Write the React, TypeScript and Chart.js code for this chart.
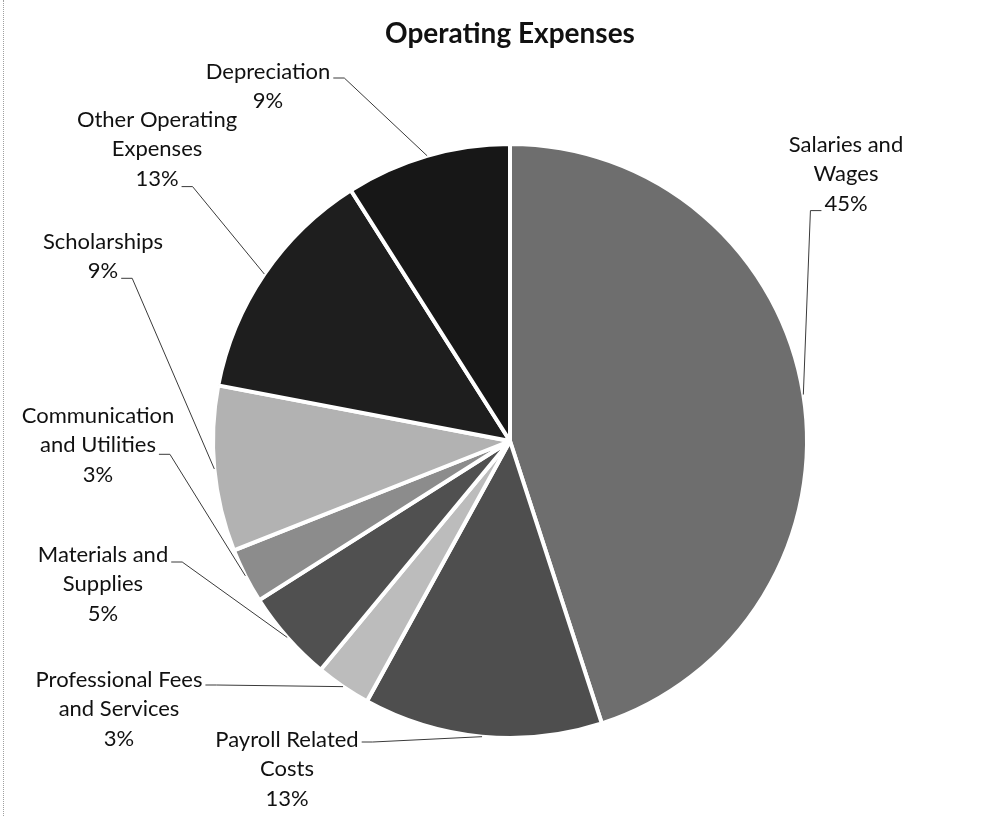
import React, { useEffect, useRef } from "react";
import { Chart, registerables } from "chart.js";

Chart.register(...registerables);

// ---- data ----
const categories = [
  "Salaries and Wages",
  "Payroll Related Costs",
  "Professional Fees and Services",
  "Materials and Supplies",
  "Communication and Utilities",
  "Scholarships",
  "Other Operating Expenses",
  "Depreciation",
];
const shares = [45, 13, 3, 5, 3, 9, 13, 9];
const labelLines = [
  ["Salaries and", "Wages"],
  ["Payroll Related", "Costs"],
  ["Professional Fees", "and Services"],
  ["Materials and", "Supplies"],
  ["Communication", "and Utilities"],
  ["Scholarships"],
  ["Other Operating", "Expenses"],
  ["Depreciation"],
];
const sliceColors = [
  "#6e6e6e",
  "#4e4e4e",
  "#bcbcbc",
  "#505050",
  "#8c8c8c",
  "#b2b2b2",
  "#1e1e1e",
  "#171717",
];
const chartTitle = "Operating Expenses";

// ---- label layout (styling, not data) ----
const FONT = "Lato, 'Open Sans', sans-serif";
const LABEL_SIZE = 22;
const LINE_H = 29.3;
const labelLayout = [
  { x: 846, y: 145, line: 2, side: "left", dy: 7 },
  { x: 287, y: 740, line: 0, side: "right", dy: 2 },
  { x: 119, y: 680, line: 0, side: "right", dy: 5 },
  { x: 103, y: 555, line: 0, side: "right", dy: 7 },
  { x: 98, y: 416, line: 1, side: "right", dy: 9 },
  { x: 103, y: 242, line: 1, side: "right", dy: 7 },
  { x: 157, y: 120, line: 2, side: "right", dy: 8 },
  { x: 268, y: 72, line: 0, side: "right", dy: 6 },
];

const calloutPlugin = {
  id: "calloutLabels",
  afterDatasetsDraw(chart: any) {
    const ctx = chart.ctx as CanvasRenderingContext2D;
    const meta = chart.getDatasetMeta(0);
    ctx.save();
    ctx.font = `${LABEL_SIZE}px ${FONT}`;
    ctx.textAlign = "center";
    ctx.textBaseline = "middle";
    ctx.fillStyle = "#111111";
    ctx.strokeStyle = "#3a3a3a";
    ctx.lineWidth = 1;
    meta.data.forEach((arc: any, i: number) => {
      const p = arc.getProps(["x", "y", "startAngle", "endAngle", "outerRadius"], true);
      const mid = (p.startAngle + p.endAngle) / 2;
      const px = p.x + Math.cos(mid) * p.outerRadius;
      const py = p.y + Math.sin(mid) * p.outerRadius;
      const lay = labelLayout[i];
      const lines = [...labelLines[i], `${shares[i]}%`];
      lines.forEach((t, k) => ctx.fillText(t, lay.x, lay.y + k * LINE_H));
      const w = ctx.measureText(lines[lay.line]).width;
      const ly = lay.y + lay.line * LINE_H + lay.dy;
      const sx = lay.side === "right" ? lay.x + w / 2 + 3 : lay.x - w / 2 - 3;
      const hx = lay.side === "right" ? sx + 11 : sx - 11;
      ctx.beginPath();
      ctx.moveTo(sx, ly);
      ctx.lineTo(hx, ly);
      ctx.lineTo(px, py);
      ctx.stroke();
    });
    ctx.restore();
  },
};

export default function App() {
  const ref = useRef<HTMLCanvasElement | null>(null);
  useEffect(() => {
    if (!ref.current) return;
    const chart = new Chart(ref.current, {
      type: "pie",
      data: {
        labels: categories,
        datasets: [
          {
            data: shares,
            backgroundColor: sliceColors,
            borderColor: "#ffffff",
            borderWidth: 4,
            radius: 297,
          } as any,
        ],
      },
      options: {
        animation: false,
        responsive: false,
        devicePixelRatio: 1,
        layout: { padding: { left: 16, right: 0, top: 17, bottom: 0 } },
        plugins: {
          legend: { display: false },
          tooltip: { enabled: false },
          title: {
            display: true,
            text: chartTitle,
            color: "#111111",
            font: { family: FONT, size: 28, weight: "bold", lineHeight: 1.2 },
            padding: { top: 0, bottom: 15.4 },
          },
        },
      },
      plugins: [calloutPlugin],
    });
    return () => chart.destroy();
  }, []);
  return (
    <div
      style={{
        position: "absolute",
        left: 0,
        top: 0,
        width: 1004,
        height: 816,
        background: "#ffffff",
      }}
    >
      <div
        style={{
          position: "absolute",
          left: 3,
          top: 0,
          height: 816,
          borderLeft: "1px dotted #a0a0a0",
        }}
      />
      <canvas ref={ref} width={1004} height={816} style={{ position: "absolute", left: 0, top: 0 }} />
    </div>
  );
}
